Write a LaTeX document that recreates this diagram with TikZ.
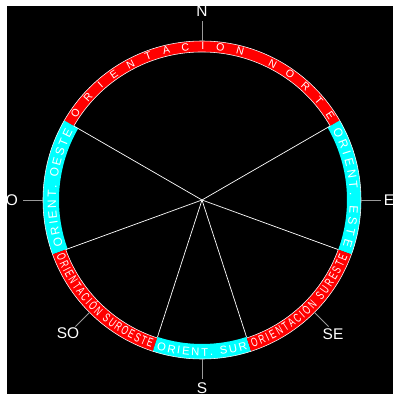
\documentclass[tikz,border=0pt]{standalone}
\usepackage{fontspec}
\setmainfont{Liberation Sans}
\newfontfamily\narrowfont[FakeStretch=0.66]{Liberation Sans}
\usetikzlibrary{decorations.text}
\definecolor{ringred}{HTML}{FF0000}
\definecolor{ringcyan}{HTML}{00FFFF}
\definecolor{ticky}{HTML}{9A9A9A}

\begin{document}
\begin{tikzpicture}[
    x=0.25mm,y=0.25mm,
    ray/.style={white,line width=0.5pt},
    tickline/.style={ticky,line width=0.6pt},
    edge/.style={white,line width=0.4pt},
    compass/.style={white,font=\fontsize{11}{13}\selectfont,inner sep=0pt},
    bandtext/.style={decorate,decoration={text along path,text align=fit to path,text color=white}}
  ]
    \useasboundingbox (-202,-200) rectangle (198,200);
    \fill[white] (-202,-200) rectangle (198,200);
    \fill[black] (-195,-194) rectangle (191,194);

    \coordinate (c) at (0,0);

    \fill[ringred] (30:148) arc[start angle=30,end angle=150,radius=148] -- (150:159) arc[start angle=150,end angle=30,radius=159] -- cycle;
    \fill[ringcyan] (-20:145) arc[start angle=-20,end angle=30,radius=145] -- (30:159) arc[start angle=30,end angle=-20,radius=159] -- cycle;
    \fill[ringcyan] (150:143) arc[start angle=150,end angle=200,radius=143] -- (200:159) arc[start angle=200,end angle=150,radius=159] -- cycle;
    \fill[ringred] (200:145) arc[start angle=200,end angle=252,radius=145] -- (252:159) arc[start angle=252,end angle=200,radius=159] -- cycle;
    \fill[ringcyan] (252:144) arc[start angle=252,end angle=288,radius=144] -- (288:159) arc[start angle=288,end angle=252,radius=159] -- cycle;
    \fill[ringred] (288:145) arc[start angle=288,end angle=340,radius=145] -- (340:159) arc[start angle=340,end angle=288,radius=159] -- cycle;

    \draw[edge] (c) circle[radius=159];
    \draw[edge] (30:148) arc[start angle=30,end angle=150,radius=148];
    \draw[edge] (200:145) arc[start angle=200,end angle=252,radius=145];
    \draw[edge] (288:145) arc[start angle=288,end angle=340,radius=145];

    \path[bandtext,decoration={text={|\fontsize{7.5}{9}\selectfont|ORIENTACION NORTE}}]
      (147:150) arc[start angle=147,end angle=32,radius=150];
    \path[bandtext,decoration={text={|\fontsize{8.5}{10}\selectfont|ORIENT. ESTE}}]
      (28:148) arc[start angle=28,end angle=-18,radius=148];
    \path[bandtext,decoration={text={|\fontsize{8.5}{10}\selectfont|ORIENT. OESTE}}]
      (198:146) arc[start angle=198,end angle=152,radius=146];
    \path[bandtext,decoration={text={|\narrowfont\fontsize{8.8}{10}\selectfont|ORIENTACIÓN SUROESTE}}]
      (201:156) arc[start angle=201,end angle=251,radius=156];
    \path[bandtext,decoration={text={|\fontsize{8}{10}\selectfont|ORIENT. SUR}}]
      (253:156) arc[start angle=253,end angle=287,radius=156];
    \path[bandtext,decoration={text={|\narrowfont\fontsize{8.8}{10}\selectfont|ORIENTACIÓN SURESTE}}]
      (289:156) arc[start angle=289,end angle=339,radius=156];

    \foreach \a/\r in {30/148,150/148,200/145,252/144,288/144,340/145}{
      \coordinate (r\a) at (\a:\r);
      \draw[ray] (c) -- (r\a);
    }

    \node[compass] (n) at (0,189) {N};
    \node[compass] (s) at (0,-188) {S};
    \node[compass] (o) at (-190,0) {O};
    \node[compass] (e) at (187,0) {E};
    \node[compass] (so) at (-134,-133) {SO};
    \node[compass] (se) at (131,-134) {SE};

    \foreach \a/\m in {90/n,270/s,180/o,0/e,225/so,315/se}{
      \coordinate (\m1) at (\a:159);
      \coordinate (\m2) at (\a:179);
      \draw[tickline] (\m1) -- (\m2);
    }
  \end{tikzpicture}
\end{document}
